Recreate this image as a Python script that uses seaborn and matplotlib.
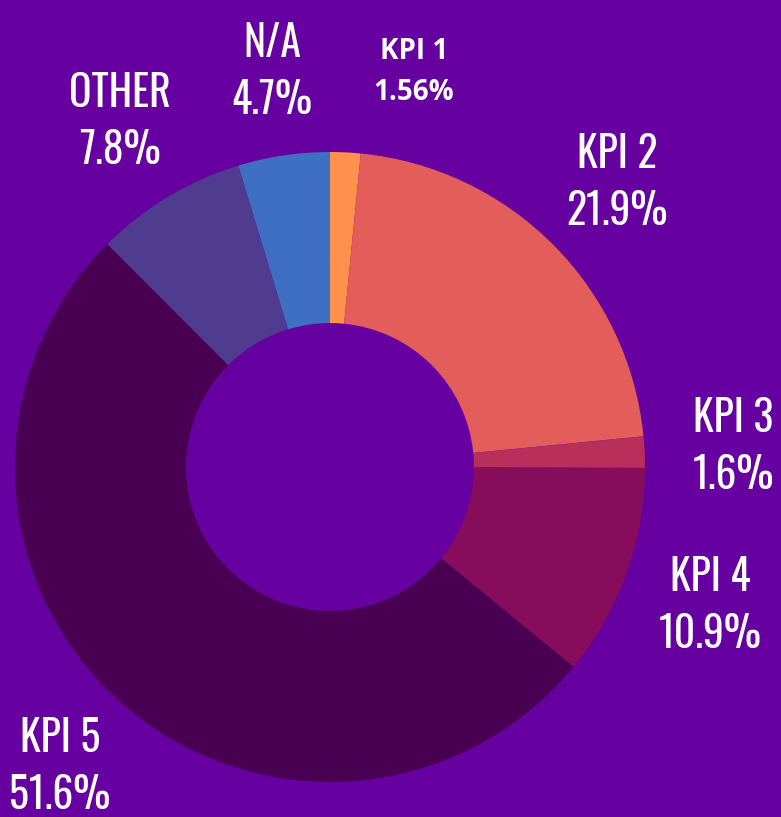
import matplotlib
matplotlib.use("Agg")
import matplotlib.pyplot as plt
import seaborn as sns

categories = ["KPI 1", "KPI 2", "KPI 3", "KPI 4", "KPI 5", "OTHER", "N/A"]
values = [1.56, 21.9, 1.6, 10.9, 51.6, 7.8, 4.7]
value_labels = ["1.56%", "21.9%", "1.6%", "10.9%", "51.6%", "7.8%", "4.7%"]
colors = ["#FF914D", "#E35D5B", "#B82F5C", "#880C5C", "#4A0052", "#4F3C8F", "#3F6FC2"]

BG = "#6600A0"
sns.set_theme(style="white")

fig = plt.figure(figsize=(7.81, 8.17), dpi=100, facecolor=BG)
ax = fig.add_axes([0, 0, 1, 1])
ax.set_facecolor(BG)

wedges, _ = ax.pie(values, colors=colors, startangle=90, counterclock=False,
                   radius=1.0, wedgeprops=dict(width=0.543, linewidth=0))
ax.set_aspect("auto")
R = 315.0
cx, cy = 330.0, 467.0
ax.set_xlim(-cx / R, (781 - cx) / R)
ax.set_ylim(-(817 - cy) / R, cy / R)
ax.axis("off")

def px(x, y):
    return ((x - cx) / R, (cy - y) / R)

# label anchor positions (pixel coords of text centre)
label_pos = [(414, 72), (617, 183), (733, 447), (710, 606), (60, 767), (120, 122), (272, 72)]
for i, (cat, lab) in enumerate(zip(categories, value_labels)):
    x, y = px(*label_pos[i])
    if cat == "KPI 1":
        ax.text(x, y, f"{cat}\n{lab}", ha="center", va="center", color="white",
                fontsize=20, fontweight="bold", family=["Open Sans", "DejaVu Sans"],
                linespacing=1.55)
    else:
        ax.text(x, y, f"{cat}\n{lab}", ha="center", va="center", color="white",
                fontsize=30, fontweight="light", family=["Oswald", "Barlow Condensed", "DejaVu Sans"],
                linespacing=1.42)

fig.savefig("out.png", dpi=100, facecolor=BG)
